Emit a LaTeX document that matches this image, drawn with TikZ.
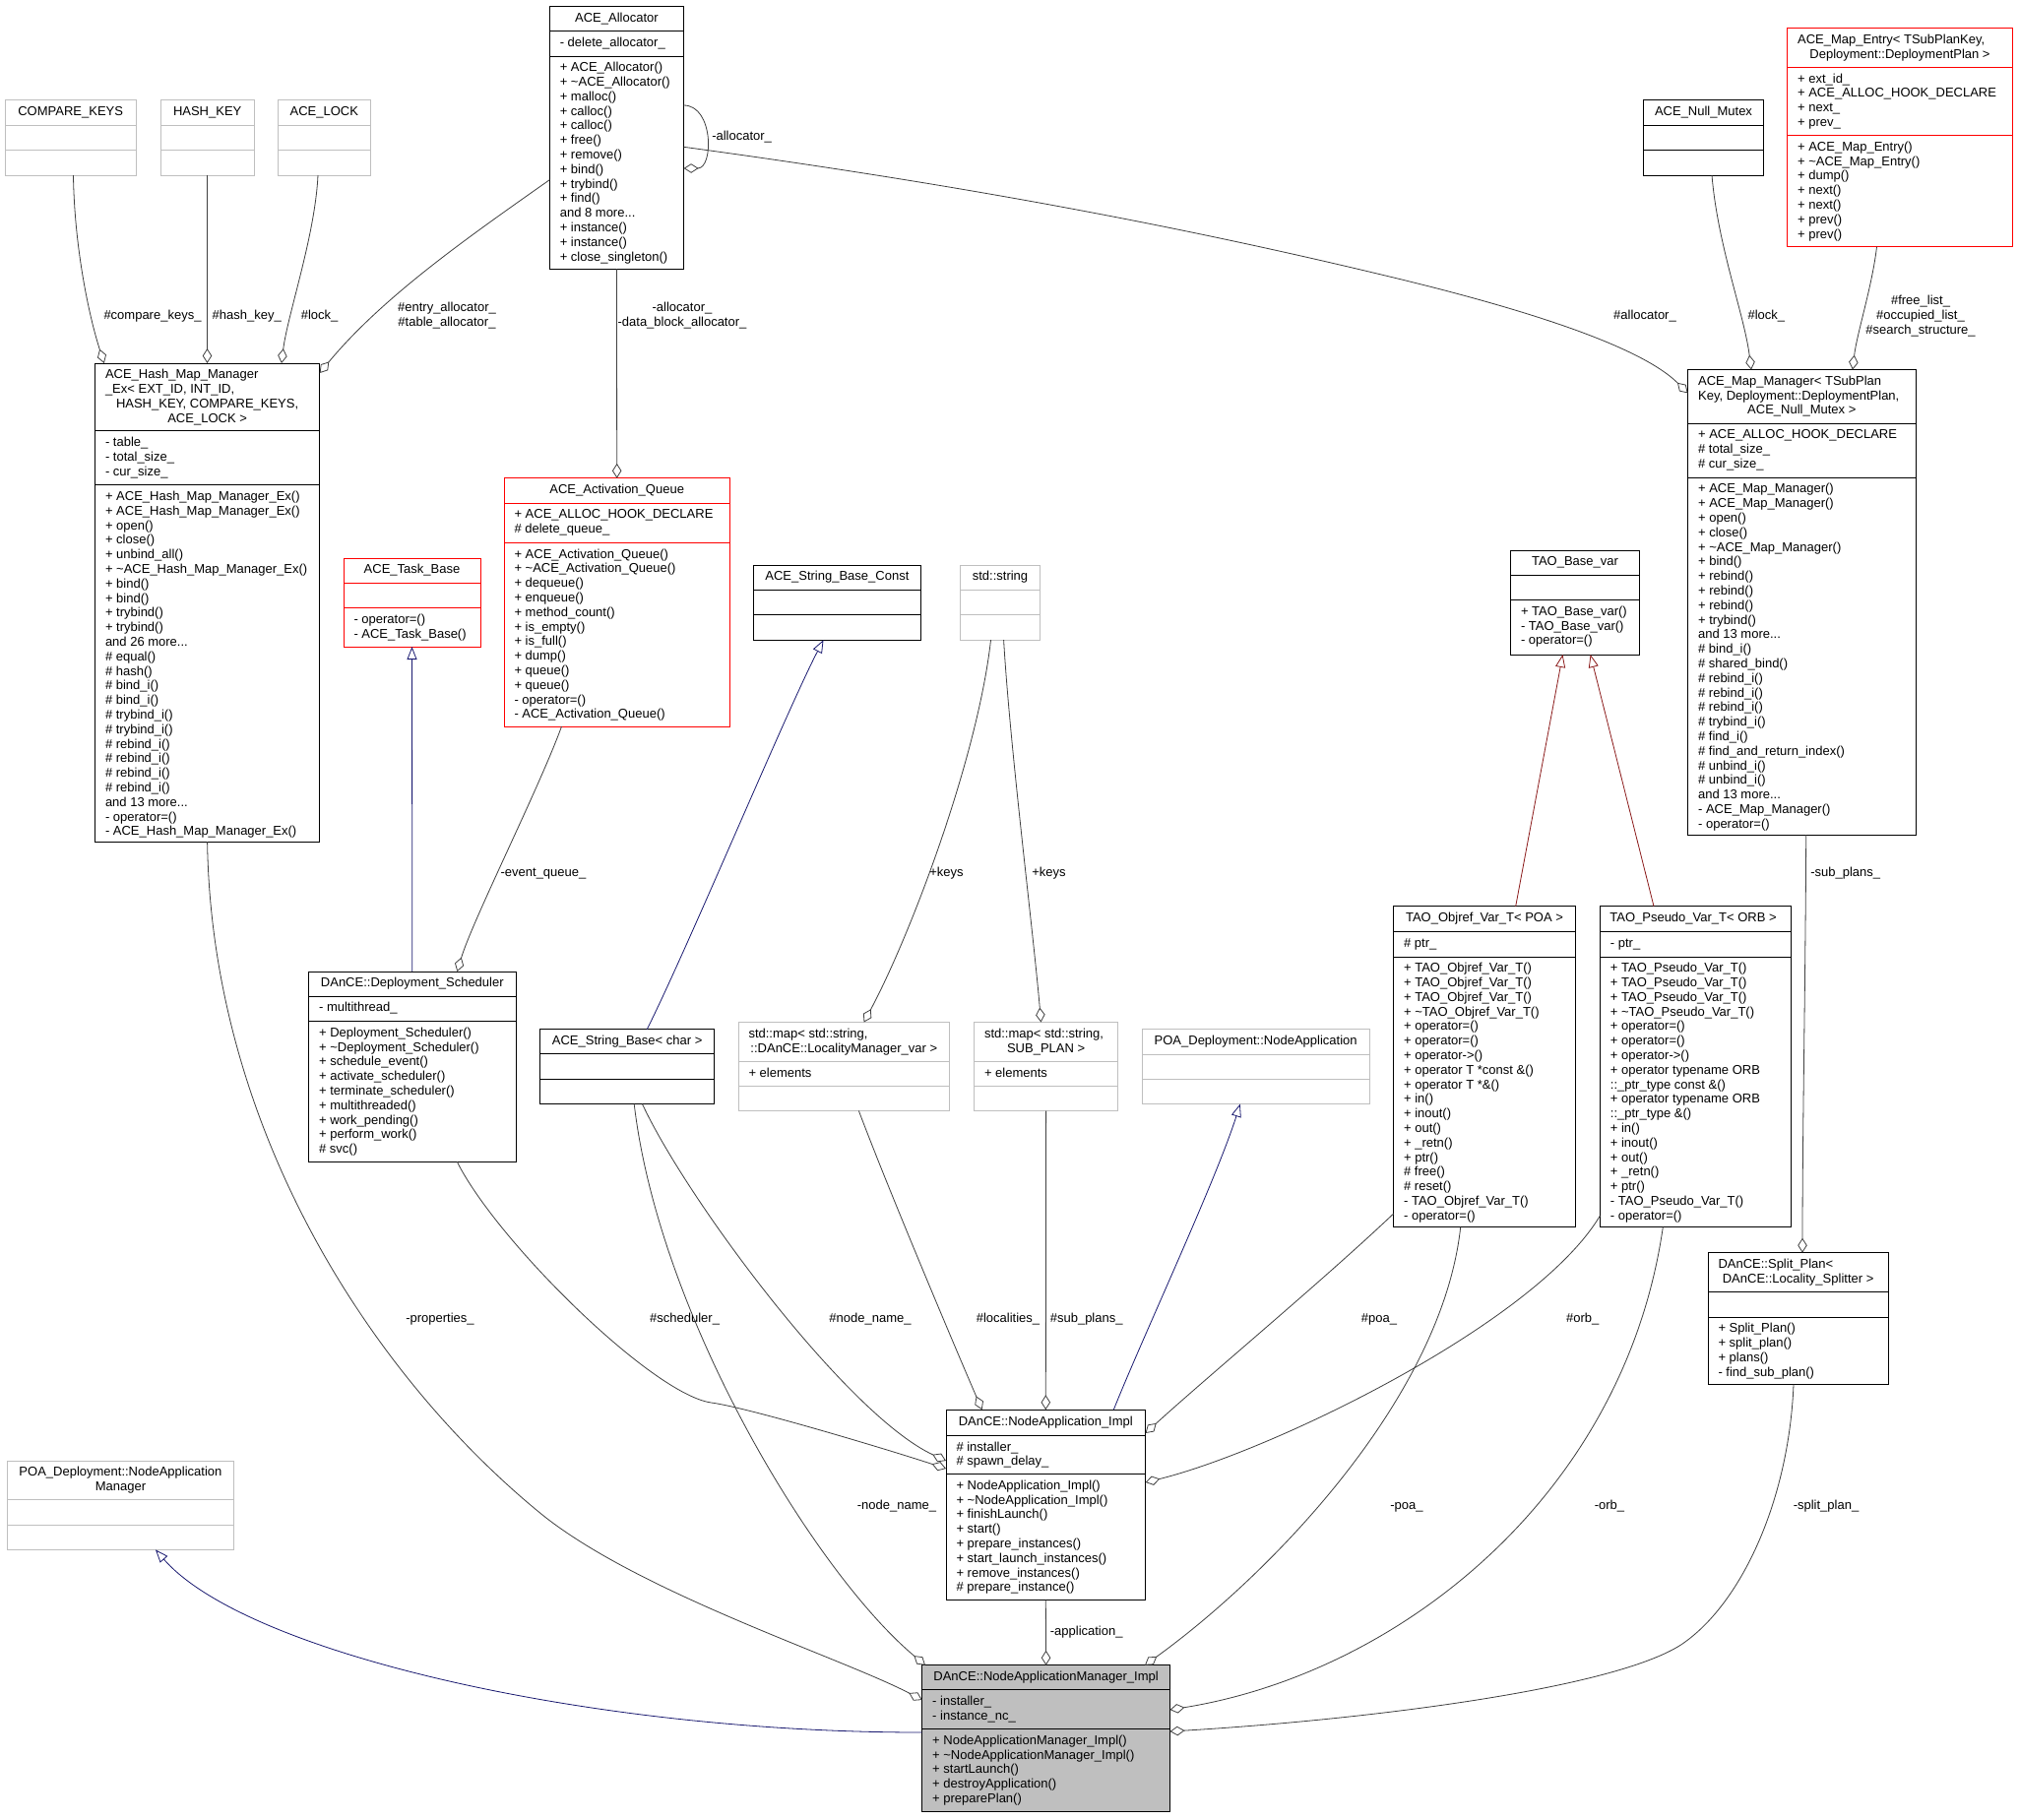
\documentclass[tikz,border=0pt]{standalone}
\usepackage{fontspec}
\setmainfont{Liberation Sans}
\usetikzlibrary{arrows.meta,calc}
\definecolor{edgec}{HTML}{404040}
\definecolor{inhblue}{HTML}{191970}
\definecolor{inhred}{HTML}{8B1A1A}
\definecolor{boxred}{HTML}{FF0000}
\definecolor{boxgray}{HTML}{BFBFBF}
\newcommand\fst{\rule{0pt}{10pt}}
\newcommand\umlbox[9]{%
  \pgfmathsetmacro\umlbw{#4-#2}\pgfmathsetmacro\umlbh{#7-#3}%
  \node[draw=#8, fill=#9, line width=1pt, inner sep=0pt, outer sep=0pt, anchor=north west, minimum width=\umlbw pt, minimum height=\umlbh pt] (#1) at (#2,#3) {};
  \draw[#8, line width=1pt] (#2,#5) -- (#4,#5) (#2,#6) -- (#4,#6);
}
\newcommand\mem[4]{\node[txt, anchor=north west] (#1) at (#2+10.5,#3+5.7) {\fst #4};}
\newcommand\ttl[4]{\node[ctxt, anchor=north] (#1) at (#2,#3+5.9) {\fst #4};}
\begin{document}
\begin{tikzpicture}[x=1pt,y=-1pt,
  txt/.style={inner sep=0pt, outer sep=0pt, font=\fontsize{13}{14.8}\selectfont, align=left},
  ctxt/.style={inner sep=0pt, outer sep=0pt, font=\fontsize{13}{14.8}\selectfont, align=center},
  lbl/.style={ctxt, anchor=north},
  agg/.style={draw=edgec, line width=0.8pt, -{Diamond[open, length=15pt, width=9.5pt]}},
  inhb/.style={draw=inhblue, line width=0.8pt, -{Triangle[open, length=13pt, width=10pt]}},
  inhr/.style={draw=inhred, line width=0.8pt, -{Triangle[open, length=13pt, width=10pt]}}]
\path[fill=white, use as bounding box] (0,0) rectangle (2051,1848);

% ---------- boxes ----------
\umlbox{ck}{5}{101.6}{138.4}{127}{152.3}{178}{boxgray}{white}
\ttl{ck-t}{71.7}{101.6}{COMPARE\_KEYS}
\umlbox{hk}{163.4}{101.6}{258}{127}{152.3}{178}{boxgray}{white}
\ttl{hk-t}{210.7}{101.6}{HASH\_KEY}
\umlbox{al}{282.6}{101.6}{376}{127}{152.3}{178}{boxgray}{white}
\ttl{al-t}{329.3}{101.6}{ACE\_LOCK}

\umlbox{alloc}{558.3}{6.5}{694.6}{31.7}{57}{273.2}{black}{white}
\ttl{alloc-t}{626.45}{6.5}{ACE\_Allocator}
\mem{alloc-a}{558.3}{31.7}{- delete\_allocator\_}
\mem{alloc-m}{558.3}{57}{+ ACE\_Allocator()\\+ \textasciitilde ACE\_Allocator()\\+ malloc()\\+ calloc()\\+ calloc()\\+ free()\\+ remove()\\+ bind()\\+ trybind()\\+ find()\\and 8 more...\\+ instance()\\+ instance()\\+ close\_singleton()}

\umlbox{nm}{1669.3}{101.6}{1791.8}{127.3}{152.6}{178}{black}{white}
\ttl{nm-t}{1730.5}{101.6}{ACE\_Null\_Mutex}

\umlbox{me}{1815.6}{28.5}{2044.5}{68.4}{137.6}{250.7}{boxred}{white}
\mem{me-t1}{1815.6}{28.5}{ACE\_Map\_Entry< TSubPlanKey,}
\node[ctxt, anchor=north] (me-t2) at (1930,28.5+5.7+14.8) {\fst Deployment::DeploymentPlan >};
\mem{me-a}{1815.6}{68.4}{+ ext\_id\_\\+ ACE\_ALLOC\_HOOK\_DECLARE\\+ next\_\\+ prev\_}
\mem{me-m}{1815.6}{137.6}{+ ACE\_Map\_Entry()\\+ \textasciitilde ACE\_Map\_Entry()\\+ dump()\\+ next()\\+ next()\\+ prev()\\+ prev()}

\umlbox{hm}{96.5}{369}{324.7}{437.7}{492.7}{855}{black}{white}
\mem{hm-t1}{96.5}{369}{ACE\_Hash\_Map\_Manager\\\_Ex< EXT\_ID, INT\_ID,}
\node[ctxt, anchor=north] (hm-t2) at (210.6,369+5.7+29.6) {\fst HASH\_KEY, COMPARE\_KEYS,\\ACE\_LOCK >};
\mem{hm-a}{96.5}{437.7}{- table\_\\- total\_size\_\\- cur\_size\_}
\mem{hm-m}{96.5}{492.7}{+ ACE\_Hash\_Map\_Manager\_Ex()\\+ ACE\_Hash\_Map\_Manager\_Ex()\\+ open()\\+ close()\\+ unbind\_all()\\+ \textasciitilde ACE\_Hash\_Map\_Manager\_Ex()\\+ bind()\\+ bind()\\+ trybind()\\+ trybind()\\and 26 more...\\\# equal()\\\# hash()\\\# bind\_i()\\\# bind\_i()\\\# trybind\_i()\\\# trybind\_i()\\\# rebind\_i()\\\# rebind\_i()\\\# rebind\_i()\\\# rebind\_i()\\and 13 more...\\- operator=()\\- ACE\_Hash\_Map\_Manager\_Ex()}

\umlbox{mm}{1714.6}{375.6}{1946}{430.2}{485.2}{848}{black}{white}
\mem{mm-t1}{1714.6}{375.6}{ACE\_Map\_Manager< TSubPlan\\Key, Deployment::DeploymentPlan,}
\node[ctxt, anchor=north] (mm-t2) at (1830.3,375.6+5.7+29.6) {\fst ACE\_Null\_Mutex >};
\mem{mm-a}{1714.6}{430.2}{+ ACE\_ALLOC\_HOOK\_DECLARE\\\# total\_size\_\\\# cur\_size\_}
\mem{mm-m}{1714.6}{485.2}{+ ACE\_Map\_Manager()\\+ ACE\_Map\_Manager()\\+ open()\\+ close()\\+ \textasciitilde ACE\_Map\_Manager()\\+ bind()\\+ rebind()\\+ rebind()\\+ rebind()\\+ trybind()\\and 13 more...\\\# bind\_i()\\\# shared\_bind()\\\# rebind\_i()\\\# rebind\_i()\\\# rebind\_i()\\\# trybind\_i()\\\# find\_i()\\\# find\_and\_return\_index()\\\# unbind\_i()\\\# unbind\_i()\\and 13 more...\\- ACE\_Map\_Manager()\\- operator=()}

\umlbox{tb}{349}{567}{488}{592}{617.5}{657}{boxred}{white}
\ttl{tb-t}{418.5}{567}{ACE\_Task\_Base}
\mem{tb-m}{349}{617.5}{- operator=()\\- ACE\_Task\_Base()}

\umlbox{aq}{512}{485.8}{741.4}{511}{551.3}{738}{boxred}{white}
\ttl{aq-t}{626.7}{485.8}{ACE\_Activation\_Queue}
\mem{aq-a}{512}{511}{+ ACE\_ALLOC\_HOOK\_DECLARE\\\# delete\_queue\_}
\mem{aq-m}{512}{551.3}{+ ACE\_Activation\_Queue()\\+ \textasciitilde ACE\_Activation\_Queue()\\+ dequeue()\\+ enqueue()\\+ method\_count()\\+ is\_empty()\\+ is\_full()\\+ dump()\\+ queue()\\+ queue()\\- operator=()\\- ACE\_Activation\_Queue()}

\umlbox{sbc}{765}{574}{935.8}{599.2}{624.5}{650.2}{black}{white}
\ttl{sbc-t}{850.4}{574}{ACE\_String\_Base\_Const}
\umlbox{ss}{975.7}{574}{1056.3}{599.2}{624.5}{650.2}{boxgray}{white}
\ttl{ss-t}{1016}{574}{std::string}

\umlbox{tbv}{1534.5}{559}{1665.6}{584.5}{609.6}{665}{black}{white}
\ttl{tbv-t}{1600}{559}{TAO\_Base\_var}
\mem{tbv-m}{1534.5}{609.6}{+ TAO\_Base\_var()\\- TAO\_Base\_var()\\- operator=()}

\umlbox{ds}{313.6}{987}{524}{1012}{1037.6}{1180.4}{black}{white}
\ttl{ds-t}{418.8}{987}{DAnCE::Deployment\_Scheduler}
\mem{ds-a}{313.6}{1012}{- multithread\_}
\mem{ds-m}{313.6}{1037.6}{+ Deployment\_Scheduler()\\+ \textasciitilde Deployment\_Scheduler()\\+ schedule\_event()\\+ activate\_scheduler()\\+ terminate\_scheduler()\\+ multithreaded()\\+ work\_pending()\\+ perform\_work()\\\# svc()}

\umlbox{sb}{548.7}{1045.7}{725.6}{1070.6}{1096.3}{1121.6}{black}{white}
\ttl{sb-t}{637.15}{1045.7}{ACE\_String\_Base< char >}

\umlbox{mlm}{750}{1038.5}{964.6}{1078.5}{1103.5}{1128.5}{boxgray}{white}
\mem{mlm-t1}{750}{1038.5}{std::map< std::string,}
\node[ctxt, anchor=north] (mlm-t2) at (857.3,1038.5+20.5) {\fst ::DAnCE::LocalityManager\_var >};
\mem{mlm-a}{750}{1078.5}{+ elements}

\umlbox{msp}{989.5}{1038.5}{1135.7}{1078.5}{1103.5}{1128.5}{boxgray}{white}
\mem{msp-t1}{989.5}{1038.5}{std::map< std::string,}
\node[ctxt, anchor=north] (msp-t2) at (1062.6,1038.5+20.5) {\fst SUB\_PLAN >};
\mem{msp-a}{989.5}{1078.5}{+ elements}

\umlbox{poan}{1160.3}{1045.7}{1391}{1071.2}{1096.6}{1121.6}{boxgray}{white}
\ttl{poan-t}{1275.65}{1045.7}{POA\_Deployment::NodeApplication}

\umlbox{tov}{1415.6}{920.7}{1600.5}{946.6}{972}{1246.5}{black}{white}
\ttl{tov-t}{1508}{920.7}{TAO\_Objref\_Var\_T< POA >}
\mem{tov-a}{1415.6}{946.6}{\# ptr\_}
\mem{tov-m}{1415.6}{972}{+ TAO\_Objref\_Var\_T()\\+ TAO\_Objref\_Var\_T()\\+ TAO\_Objref\_Var\_T()\\+ \textasciitilde TAO\_Objref\_Var\_T()\\+ operator=()\\+ operator=()\\+ operator->()\\+ operator T *const \&()\\+ operator T *\&()\\+ in()\\+ inout()\\+ out()\\+ \_retn()\\+ ptr()\\\# free()\\\# reset()\\- TAO\_Objref\_Var\_T()\\- operator=()}

\umlbox{tpv}{1625.4}{920.7}{1819.8}{946.6}{972}{1246.5}{black}{white}
\ttl{tpv-t}{1720}{920.7}{TAO\_Pseudo\_Var\_T< ORB >}
\mem{tpv-a}{1625.4}{946.6}{- ptr\_}
\mem{tpv-m}{1625.4}{972}{+ TAO\_Pseudo\_Var\_T()\\+ TAO\_Pseudo\_Var\_T()\\+ TAO\_Pseudo\_Var\_T()\\+ \textasciitilde TAO\_Pseudo\_Var\_T()\\+ operator=()\\+ operator=()\\+ operator->()\\+ operator typename ORB\\::\_ptr\_type const \&()\\+ operator typename ORB\\::\_ptr\_type \&()\\+ in()\\+ inout()\\+ out()\\+ \_retn()\\+ ptr()\\- TAO\_Pseudo\_Var\_T()\\- operator=()}

\umlbox{sp}{1735}{1272.7}{1918.3}{1312}{1338}{1406.6}{black}{white}
\mem{sp-t1}{1735}{1272.7}{DAnCE::Split\_Plan<}
\node[ctxt, anchor=north] (sp-t2) at (1826.6,1272.7+20.5) {\fst DAnCE::Locality\_Splitter >};
\mem{sp-m}{1735}{1338}{+ Split\_Plan()\\+ split\_plan()\\+ plans()\\- find\_sub\_plan()}

\umlbox{nai}{961}{1432.2}{1163.6}{1458.3}{1497.5}{1625.6}{black}{white}
\ttl{nai-t}{1062.3}{1432.2}{DAnCE::NodeApplication\_Impl}
\mem{nai-a}{961}{1458.3}{\# installer\_\\\# spawn\_delay\_}
\mem{nai-m}{961}{1497.5}{+ NodeApplication\_Impl()\\+ \textasciitilde NodeApplication\_Impl()\\+ finishLaunch()\\+ start()\\+ prepare\_instances()\\+ start\_launch\_instances()\\+ remove\_instances()\\\# prepare\_instance()}

\umlbox{poam}{7.3}{1484}{237.6}{1523.6}{1549.2}{1574.4}{boxgray}{white}
\node[ctxt, anchor=north] (poam-t) at (122.45,1484+5.7) {\fst POA\_Deployment::NodeApplication\\Manager};

\umlbox{nam}{936.7}{1691.7}{1188.5}{1716.5}{1756.6}{1840.5}{black}{boxgray}
\ttl{nam-t}{1062.6}{1691.7}{DAnCE::NodeApplicationManager\_Impl}
\mem{nam-a}{936.7}{1716.5}{- installer\_\\- instance\_nc\_}
\mem{nam-m}{936.7}{1756.6}{+ NodeApplicationManager\_Impl()\\+ \textasciitilde NodeApplicationManager\_Impl()\\+ startLaunch()\\+ destroyApplication()\\+ preparePlan()}

% ---------- connectors ----------
\draw[agg] ($(ck.north west)+(69.5,76.4)$) .. controls (75.5,250) and (90,320) .. ($(hm.north west)+(9.3,0)$);
\draw[agg] ($(hk.north west)+(47.1,76.4)$) -- ($(hm.north west)+(114,0)$);
\draw[agg] ($(al.north west)+(40.4,76.4)$) .. controls (320,240) and (292,320) .. ($(hm.north west)+(189.5,0)$);
\draw[agg] ($(alloc.north west)+(0,176.2)$) .. controls (480,238) and (390,300) .. ($(hm.north west)+(228.2,10)$);
\draw[agg] (alloc.south) -- (aq.north);
\draw[agg] ($(alloc.north west)+(136.3,100.5)$) .. controls (725,107) and (725,171) .. ($(alloc.north west)+(136.3,164.5)$);
\draw[agg] ($(alloc.north west)+(136.3,142.8)$) .. controls (944.6,183.4) and (1176.8,223.7) .. (1426.8,284.7) .. controls (1536.8,311.7) and (1664.4,349.4) .. ($(mm.north west)+(0,23.8)$);
\draw[agg] ($(nm.north west)+(69.7,76.4)$) .. controls (1745,250) and (1772,320) .. ($(mm.north west)+(64.4,0)$);
\draw[agg] ($(me.north west)+(90.9,222.2)$) .. controls (1902,290) and (1886,340) .. ($(mm.north west)+(167.4,0)$);
\draw[agg] ($(aq.north west)+(58.5,252.2)$) .. controls (548,800) and (480,935) .. ($(ds.north west)+(150.8,0)$);
\draw[inhb] (ds.north) -- (tb.south);
\draw[inhb] ($(sb.north west)+(108.6,0)$) .. controls (700,960) and (800,720) .. ($(sbc.north west)+(71.5,76.2)$);
\draw[agg] ($(ss.north west)+(30.8,76.2)$) .. controls (993,770) and (925,950) .. ($(mlm.north west)+(127.6,0)$);
\draw[agg] ($(ss.north west)+(43.9,76.2)$) .. controls (1026,760) and (1050,950) .. ($(msp.north west)+(68,0)$);
\draw[inhr] ($(tov.north west)+(124.1,0)$) -- ($(tbv.north west)+(53,106)$);
\draw[inhr] ($(tpv.north west)+(54.6,0)$) -- ($(tbv.north west)+(81.1,106)$);
\draw[agg] ($(mm.north west)+(120.1,472.4)$) .. controls (1834,1000) and (1831,1150) .. ($(sp.north west)+(96,0)$);
\draw[inhb] ($(nai.north west)+(170.3,0)$) .. controls (1160,1360) and (1235,1200) .. ($(poan.north west)+(99.5,75.9)$);
\draw[agg] ($(mlm.north west)+(122.4,90)$) .. controls (905,1215) and (975,1380) .. ($(nai.north west)+(36.6,0)$);
\draw[agg] (msp.south) -- (nai.north);
\draw[agg] ($(tov.north west)+(0,312.3)$) .. controls (1345,1300) and (1225,1400) .. ($(nai.north west)+(202.6,23.8)$);
\draw[agg] ($(tpv.north west)+(0,314.3)$) .. controls (1560,1345) and (1290,1475) .. ($(nai.north west)+(202.6,73.8)$);
\draw[agg] (hm.south) .. controls (215,1150) and (380,1400) .. (551,1539) .. controls (651,1619) and (857,1685) .. ($(nam.north west)+(0,35.3)$);
\draw[agg] ($(ds.north west)+(150.8,193.4)$) .. controls (504.4,1260.4) and (662.6,1416.6) .. (722.6,1425) .. controls (760,1430) and (900,1472) .. ($(nai.north west)+(0,59.8)$);
\draw[agg] ($(sb.north west)+(103.8,75.9)$) .. controls (697.5,1218.6) and (861,1438) .. ($(nai.north west)+(0,51.8)$);
\draw[agg] ($(sb.north west)+(95.5,75.9)$) .. controls (670,1340) and (830,1600) .. ($(nam.north west)+(3.3,0)$);
\draw[agg] (nai.south) -- (nam.north);
\draw[agg] ($(tov.north west)+(68.1,325.8)$) .. controls (1465,1420) and (1290,1600) .. ($(nam.north west)+(226.3,0)$);
\draw[agg] ($(tpv.north west)+(63.9,325.8)$) .. controls (1650,1520) and (1420,1700) .. ($(nam.north west)+(251.8,45.3)$);
\draw[agg] ($(sp.north west)+(87,133.9)$) .. controls (1817,1526.6) and (1767.6,1631) .. (1707.6,1671) .. controls (1637.6,1716) and (1388.5,1747) .. ($(nam.north west)+(251.8,67.3)$);
\draw[inhb] ($(nam.north west)+(0,68.3)$) .. controls (600,1760) and (250,1680) .. ($(poam.north west)+(150.7,90.4)$);

% ---------- labels ----------
\node[lbl] (l1) at (155,314.2) {\fst\#compare\_keys\_};
\node[lbl] (l2) at (250.7,314.2) {\fst\#hash\_key\_};
\node[lbl] (l3) at (324.6,314.2) {\fst\#lock\_};
\node[lbl] (l4) at (454,306.6) {\fst\#entry\_allocator\_\\\#table\_allocator\_};
\node[lbl] (l5) at (693,306.7) {\fst -allocator\_\\-data\_block\_allocator\_};
\node[lbl] (l6) at (753.6,132.8) {\fst -allocator\_};
\node[lbl] (l7) at (1671,314.5) {\fst\#allocator\_};
\node[lbl] (l8) at (1794.4,314.5) {\fst\#lock\_};
\node[lbl] (l9) at (1951,299.5) {\fst\#free\_list\_\\\#occupied\_list\_\\\#search\_structure\_};
\node[lbl] (l10) at (552,880.7) {\fst -event\_queue\_};
\node[lbl] (l11) at (961.4,880.8) {\fst +keys};
\node[lbl] (l12) at (1065.4,880.8) {\fst +keys};
\node[lbl] (l13) at (1874.7,880.5) {\fst -sub\_plans\_};
\node[lbl] (l14) at (447,1333) {\fst -properties\_};
\node[lbl] (l15) at (695.6,1333) {\fst\#scheduler\_};
\node[lbl] (l16) at (884,1333) {\fst\#node\_name\_};
\node[lbl] (l17) at (1024,1333) {\fst\#localities\_};
\node[lbl] (l18) at (1103.7,1333) {\fst\#sub\_plans\_};
\node[lbl] (l19) at (1401,1333) {\fst\#poa\_};
\node[lbl] (l20) at (1607.8,1333) {\fst\#orb\_};
\node[lbl] (l21) at (911,1523.2) {\fst -node\_name\_};
\node[lbl] (l22) at (1429,1523.2) {\fst -poa\_};
\node[lbl] (l23) at (1635,1523.2) {\fst -orb\_};
\node[lbl] (l24) at (1855,1523.2) {\fst -split\_plan\_};
\node[lbl] (l25) at (1103.7,1651.6) {\fst -application\_};
\end{tikzpicture}
\end{document}
